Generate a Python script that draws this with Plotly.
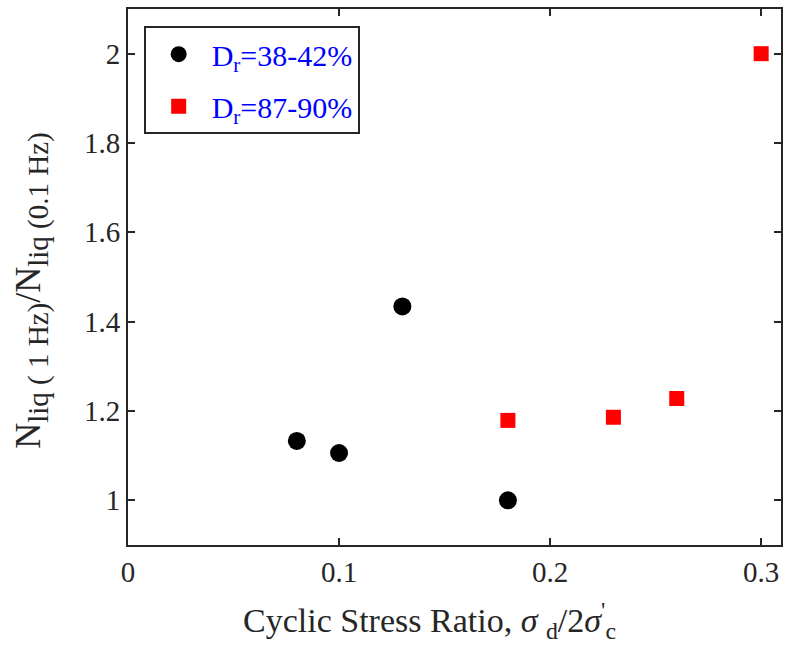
import plotly.graph_objects as go

# Data
x_loose = [0.08, 0.10, 0.13, 0.18]
y_loose = [1.133, 1.106, 1.434, 1.0]
x_dense = [0.18, 0.23, 0.26, 0.30]
y_dense = [1.179, 1.186, 1.228, 2.0]
x_ticks = [0, 0.1, 0.2, 0.3]
x_ticklabels = ["0", "0.1", "0.2", "0.3"]
y_ticks = [1, 1.2, 1.4, 1.6, 1.8, 2]
y_ticklabels = ["1", "1.2", "1.4", "1.6", "1.8", "2"]
names = ["D<sub>r</sub>=38-42%", "D<sub>r</sub>=87-90%"]
x_title = "Cyclic Stress Ratio, <i>σ</i> <sub>d</sub>/2<i>σ</i><sup>'</sup><sub>c</sub>"
y_title = ("N<sub><span style='font-size:29px'>liq ( 1 Hz)</span></sub>/"
           "N<sub><span style='font-size:29px'>liq (0.1 Hz)</span></sub>&nbsp;&nbsp;&nbsp;")

FONT = "Liberation Serif, Times New Roman, serif"
AX = "#262626"

fig = go.Figure()
fig.add_trace(go.Scatter(x=x_loose, y=y_loose, mode="markers", name=names[0],
                         legendgroup="a",
                         marker=dict(symbol="circle", size=18, color="black")))
fig.add_trace(go.Scatter(x=x_dense, y=y_dense, mode="markers", name=names[1],
                         legendgroup="b",
                         marker=dict(symbol="square", size=15, color="#ff0000")))

axis_common = dict(showline=True, linecolor=AX, linewidth=2, mirror="allticks",
                   ticks="inside", ticklen=7, tickwidth=2, tickcolor=AX,
                   showgrid=False, zeroline=False,
                   tickfont=dict(family=FONT, size=29, color=AX))

fig.update_layout(
    width=788, height=669,
    margin=dict(l=128, r=5, t=9, b=124),
    plot_bgcolor="white", paper_bgcolor="white",
    font=dict(family=FONT, color=AX),
    xaxis=dict(range=[0, 0.3094], tickvals=x_ticks, ticktext=x_ticklabels,
               **axis_common),
    yaxis=dict(range=[0.9, 2.1], tickvals=y_ticks, ticktext=y_ticklabels,
               title=dict(text=y_title,
                          font=dict(family=FONT, size=36, color=AX), standoff=32),
               **axis_common),
    legend=dict(x=0.024, y=0.968, xanchor="left", yanchor="top",
                bgcolor="white", bordercolor=AX, borderwidth=2,
                font=dict(family=FONT, size=30, color="#0000ff"),
                itemsizing="trace", itemwidth=56,
                traceorder="grouped", tracegroupgap=10),
    showlegend=True,
    annotations=[dict(text=x_title, xref="paper", yref="paper",
                      x=0.461, y=-0.14, xanchor="center", yanchor="middle",
                      showarrow=False,
                      font=dict(family=FONT, size=34, color=AX))],
)

fig.write_html("out.html")
